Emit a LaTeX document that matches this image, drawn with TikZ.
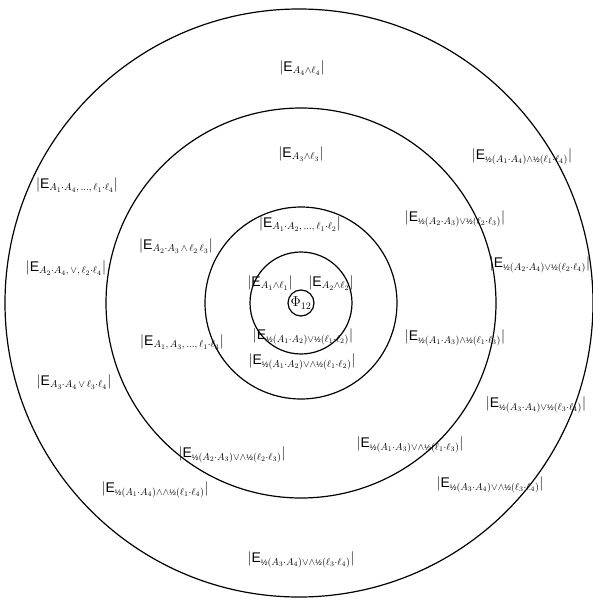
\documentclass[tikz,border=0pt]{standalone}
\usepackage{fontspec}
\setsansfont{Liberation Sans}
\newcommand{\half}{\mbox{\fontsize{8}{8}\sffamily\selectfont ½}}
\newcommand{\ELab}[1]{$|\mathsf{E}_{#1}|$}
\begin{document}
\begin{tikzpicture}[x=1pt,y=-1pt,
  ring/.style={draw=black,line width=1.2pt},
  lab/.style={inner sep=0pt,font=\fontsize{14}{16}\selectfont}]
\useasboundingbox (0,0) rectangle (593,605);
\coordinate (c) at (301,303);
\coordinate (co) at (299,303);
\draw[ring] (c) circle (13);
\draw[ring] (c) circle (51);
\draw[ring] (c) circle (96);
\draw[ring] (c) circle (195);
\draw[ring] (co) circle (294);
% centre
\node[lab] (phi) at (c) {$\Phi_{12}$};
% ring 2
\node[lab] (l1) at (270,283) {\ELab{A_1\wedge\ell_1}};
\node[lab] (l2) at (331,283) {\ELab{A_2\wedge\ell_2}};
\node[lab] (l3) at (303,337) {\ELab{\half(A_1\cdot A_2)\vee\half(\ell_1\cdot\ell_2)}};
% ring 3
\node[lab] (l4) at (300,224) {\ELab{A_1\cdot A_2,\,\ldots,\,\ell_1\cdot\ell_2}};
\node[lab] (l5) at (302,362) {\ELab{\half(A_1\cdot A_2)\vee\wedge\half(\ell_1\cdot\ell_2)}};
% ring 4
\node[lab] (l6) at (301,154) {\ELab{A_3\wedge\ell_3}};
\node[lab] (l7) at (176,246) {\ELab{A_2\cdot A_3\,\wedge\,\ell_2\,\ell_3}};
\node[lab] (l8) at (182,342) {\ELab{A_1,\,A_3,\,\ldots,\,\ell_1\cdot\ell_3}};
\node[lab] (l9) at (455,219) {\ELab{\half(A_2\cdot A_3)\vee\half(\ell_2\cdot\ell_3)}};
\node[lab] (l10) at (455,338) {\ELab{\half(A_1\cdot A_3)\wedge\half(\ell_1\cdot\ell_3)}};
\node[lab] (l11) at (232,455) {\ELab{\half(A_2\cdot A_3)\vee\wedge\half(\ell_2\cdot\ell_3)}};
\node[lab] (l12) at (410,445) {\ELab{\half(A_1\cdot A_3)\vee\wedge\half(\ell_1\cdot\ell_3)}};
% ring 5
\node[lab] (l13) at (302,68) {\ELab{A_4\wedge\ell_4}};
\node[lab] (l14) at (77,185) {\ELab{A_1\cdot A_4,\,\ldots,\,\ell_1\cdot\ell_4}};
\node[lab] (l15) at (66,268) {\ELab{A_2\cdot A_4,\,\vee,\,\ell_2\cdot\ell_4}};
\node[lab] (l16) at (74,382) {\ELab{A_3\cdot A_4\,\vee\,\ell_3\cdot\ell_4}};
\node[lab] (l17) at (522,157) {\ELab{\half(A_1\cdot A_4)\wedge\half(\ell_1\cdot\ell_4)}};
\node[lab] (l18) at (540,265) {\ELab{\half(A_2\cdot A_4)\vee\half(\ell_2\cdot\ell_4)}};
\node[lab] (l19) at (536,405) {\ELab{\half(A_3\cdot A_4)\vee\half(\ell_3\cdot\ell_4)}};
\node[lab] (l20) at (155,490) {\ELab{\half(A_1\cdot A_4)\wedge\wedge\half(\ell_1\cdot\ell_4)}};
\node[lab] (l21) at (490,485) {\ELab{\half(A_3\cdot A_4)\vee\wedge\half(\ell_3\cdot\ell_4)}};
\node[lab] (l22) at (301,560) {\ELab{\half(A_3\cdot A_4)\vee\wedge\half(\ell_3\cdot\ell_4)}};
\end{tikzpicture}
\end{document}
